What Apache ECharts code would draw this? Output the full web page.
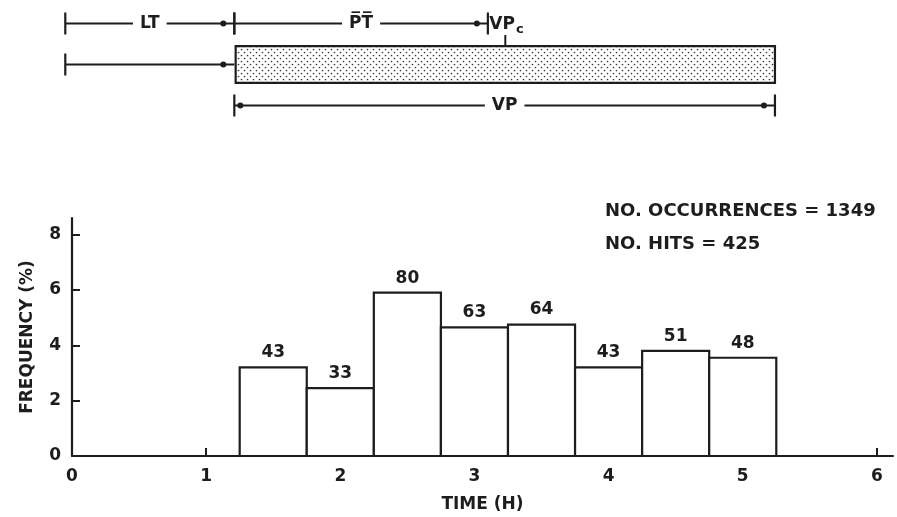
<!DOCTYPE html>
<html><head><meta charset="utf-8">
<script src="https://cdn.jsdelivr.net/npm/echarts@6/dist/echarts.min.js"></script>
<style>html,body{margin:0;padding:0;background:#fff}#c{width:897px;height:517px}</style>
</head><body><div id="c"></div>
<script>
// ---- data ----
const binStart = [1.25, 1.75, 2.25, 2.75, 3.25, 3.75, 4.25, 4.75];
const binEnd   = [1.75, 2.25, 2.75, 3.25, 3.75, 4.25, 4.75, 5.25];
const frequency = [3.2, 2.45, 5.9, 4.65, 4.75, 3.2, 3.8, 3.55];
const hits = [43, 33, 80, 63, 64, 43, 51, 48];
const xTickLabels = [0, 1, 2, 3, 4, 5, 6];
const yTickLabels = [0, 2, 4, 6, 8];
const xTickMarks = [1, 2, 3, 4, 5, 6];
const yTickMarks = [2, 4, 6, 8];
const annotations = ['NO. OCCURRENCES = 1349', 'NO. HITS = 425'];
// timeline diagram (hours)
const diagramRows = ['row0', 'row1', 'row2'];
const spanRow = [0, 0, 1, 2];
const spanStart = [-0.05, 1.21, -0.05, 1.21];
const spanEnd = [1.21, 3.1, 1.21, 5.24];
const spanLabel = ['LT', 'P\u0305T\u0305', '', 'VP'];
const spanStartDot = [0, 0, 0, 1];
const spanEndTick = [1, 1, 0, 1];
const periodBar = [1.22, 5.24];   // stippled VP bar, row 1
const vpcMark = 3.23;

const ink = '#1d1d1d';
const FONT = 'DejaVu Sans';
const F = 'bold 17px ' + FONT;

const chart = echarts.init(document.getElementById('c'), null, {renderer: 'canvas'});

// stipple pattern
const pc = document.createElement('canvas');
pc.width = 6; pc.height = 6;
const g = pc.getContext('2d');
g.fillStyle = '#fff'; g.fillRect(0, 0, 6, 6);
g.fillStyle = '#3a3a3a';
[[1.5, 1.5], [4.5, 4.5]].forEach(p => { g.beginPath(); g.arc(p[0], p[1], 0.85, 0, Math.PI * 2); g.fill(); });

const spanData = spanRow.map((r, i) => [spanStart[i], r, spanEnd[i], i]);

function renderSpan(params, api) {
  const i = api.value(3);
  const p0 = api.coord([api.value(0), api.value(1)]);
  const p1 = api.coord([api.value(2), api.value(1)]);
  const y = p0[1], h = 11;
  const st = {stroke: ink, lineWidth: 1.8};
  const ch = [
    {type: 'line', shape: {x1: p0[0], y1: y, x2: p1[0], y2: y}, style: st},
    {type: 'line', shape: {x1: p0[0], y1: y - h, x2: p0[0], y2: y + h}, style: {stroke: ink, lineWidth: 2.2}},
    {type: 'circle', shape: {cx: p1[0] - 11, cy: y, r: 3}, style: {fill: ink}}
  ];
  if (spanEndTick[i]) ch.push({type: 'line', shape: {x1: p1[0], y1: y - h, x2: p1[0], y2: y + h}, style: {stroke: ink, lineWidth: 2.2}});
  if (spanStartDot[i]) ch.push({type: 'circle', shape: {cx: p0[0] + 6, cy: y, r: 3}, style: {fill: ink}});
  if (spanLabel[i]) ch.push({type: 'text', z2: 10, style: {text: spanLabel[i], x: (p0[0] + p1[0]) / 2, y: y, align: 'center', verticalAlign: 'middle',
    font: F, fill: ink, backgroundColor: '#fff', padding: [0, 7]}});
  return {type: 'group', children: ch};
}

function renderBarDiagram(params, api) {
  const a = api.coord([api.value(0), 1]);
  const b = api.coord([api.value(1), 1]);
  const band = api.size([0, 1])[1];
  const hh = band * 0.9;
  const m = api.coord([vpcMark, 1]);
  const top = a[1] - hh / 2;
  return {type: 'group', children: [
    {type: 'rect', shape: {x: a[0], y: top, width: b[0] - a[0], height: hh},
      style: {fill: {image: pc, repeat: 'repeat'}, stroke: ink, lineWidth: 2.2}},
    {type: 'line', shape: {x1: m[0], y1: top - 11, x2: m[0], y2: top}, style: {stroke: ink, lineWidth: 2}},
    {type: 'text', style: {text: '{a|VP}{b|c}', x: m[0] - 16, y: top - 21, align: 'left', verticalAlign: 'middle',
      rich: {a: {font: F, fill: ink}, b: {font: 'bold 13px ' + FONT, fill: ink, verticalAlign: 'bottom', padding: [10, 0, 0, 1]}}}}
  ]};
}

function renderHist(params, api) {
  const x0 = api.value(0), x1 = api.value(1), v = api.value(2);
  const tl = api.coord([x0, v]), br = api.coord([x1, 0]);
  return {type: 'group', children: [
    {type: 'rect', shape: {x: tl[0], y: tl[1], width: br[0] - tl[0], height: br[1] - tl[1]},
      style: {fill: '#fff', stroke: ink, lineWidth: 2.2}},
    {type: 'text', style: {text: String(api.value(3)), x: (tl[0] + br[0]) / 2, y: tl[1] - 6,
      align: 'center', verticalAlign: 'bottom', font: F, fill: ink}}
  ]};
}

const axisCommon = {
  axisLine: {show: true, lineStyle: {color: ink, width: 2.2}},
  splitLine: {show: false}
};
const lblStyle = {fontSize: 17, fontWeight: 'bold', color: ink, fontFamily: FONT};

chart.setOption({
  backgroundColor: '#fff',
  animation: false,
  textStyle: {fontFamily: FONT, color: ink},
  grid: [
    {left: 72, right: 4, top: 218, bottom: 61},
    {left: 72, right: 4, top: 3, height: 123}
  ],
  xAxis: [
    Object.assign({}, axisCommon, {
      type: 'value', min: 0, max: 6.12, gridIndex: 0,
      name: 'TIME (H)', nameLocation: 'middle', nameGap: 40,
      nameTextStyle: lblStyle,
      axisTick: {show: true, inside: true, length: 8, lineStyle: {color: ink, width: 2}, customValues: xTickMarks},
      axisLabel: Object.assign({show: true, margin: 12, customValues: xTickLabels}, lblStyle)
    }),
    {type: 'value', min: 0, max: 6.12, gridIndex: 1, show: false}
  ],
  yAxis: [
    Object.assign({}, axisCommon, {
      type: 'value', min: 0, max: 8.6, gridIndex: 0,
      name: 'FREQUENCY (%)', nameLocation: 'middle', nameGap: 36,
      nameTextStyle: lblStyle,
      axisTick: {show: true, inside: true, length: 8, lineStyle: {color: ink, width: 2}, customValues: yTickMarks},
      axisLabel: Object.assign({show: true, margin: 11, customValues: yTickLabels}, lblStyle)
    }),
    {type: 'category', data: diagramRows, inverse: true, gridIndex: 1, show: false}
  ],
  graphic: [
    {type: 'text', left: 605, top: 202, style: {text: annotations[0], font: 'bold 18px ' + FONT, fill: ink}},
    {type: 'text', left: 605, top: 235, style: {text: annotations[1], font: 'bold 18px ' + FONT, fill: ink}}
  ],
  series: [
    {
      type: 'custom', xAxisIndex: 0, yAxisIndex: 0, clip: false,
      renderItem: renderHist,
      encode: {x: [0, 1], y: 2},
      data: binStart.map((s, i) => [s, binEnd[i], frequency[i], hits[i]])
    },
    {
      type: 'custom', xAxisIndex: 1, yAxisIndex: 1, clip: false,
      renderItem: renderBarDiagram,
      encode: {x: [0, 1]},
      data: [[periodBar[0], periodBar[1]]]
    },
    {
      type: 'custom', xAxisIndex: 1, yAxisIndex: 1, clip: false, z: 3,
      renderItem: renderSpan,
      encode: {x: [0, 2], y: 1},
      data: spanData
    }
  ]
});
</script></body></html>
